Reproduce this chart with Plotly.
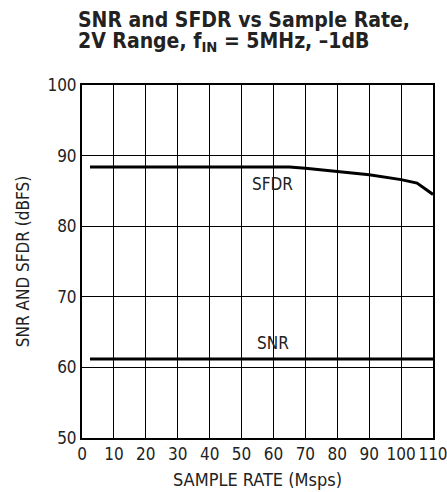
import plotly.graph_objects as go

sfdr_x = [2.5, 10, 20, 30, 40, 50, 60, 65, 70, 80, 90, 100, 105, 110]
sfdr_y = [88.4, 88.4, 88.4, 88.4, 88.4, 88.4, 88.4, 88.4, 88.2, 87.7, 87.3, 86.6, 86.1, 84.5]
snr_x = [2.5, 110]
snr_y = [61.2, 61.2]
x_ticks = [0, 10, 20, 30, 40, 50, 60, 70, 80, 90, 100, 110]
y_ticks = [50, 60, 70, 80, 90, 100]

FONT = "DejaVu Sans Condensed, Liberation Sans Narrow, sans-serif"
T, B, L, R = 85, 54, 82, 14
PH = 492 - T - B
PW = 447 - L - R

def py(px):
    return 1 + (T - px) / PH

def px_(x):
    return (x - L) / PW

fig = go.Figure()
fig.add_trace(go.Scatter(x=sfdr_x, y=sfdr_y, mode="lines",
                         line=dict(color="black", width=3), showlegend=False))
fig.add_trace(go.Scatter(x=snr_x, y=snr_y, mode="lines",
                         line=dict(color="black", width=3), showlegend=False))

fig.add_annotation(x=59.6, y=86.0, text="SFDR", showarrow=False,
                   font=dict(family=FONT, size=17, color="#222"))
fig.add_annotation(x=59.8, y=63.4, text="SNR", showarrow=False,
                   font=dict(family=FONT, size=17, color="#222"))

fig.add_annotation(xref="paper", yref="paper", x=px_(76), y=py(20),
                   xanchor="left", yanchor="middle", align="left",
                   text="<b>SNR and SFDR vs Sample Rate,</b>",
                   showarrow=False,
                   font=dict(family=FONT, size=21, color="#222"))
fig.add_annotation(xref="paper", yref="paper", x=px_(76), y=py(42),
                   xanchor="left", yanchor="middle", align="left",
                   text="<b>2V Range, f<sub>IN</sub> = 5MHz, –1dB</b>",
                   showarrow=False,
                   font=dict(family=FONT, size=21, color="#222"))

fig.update_xaxes(range=[0, 110], tickvals=x_ticks, showgrid=True,
                 gridcolor="black", gridwidth=1, showline=True, linecolor="black",
                 linewidth=2, mirror=True, ticks="", zeroline=False, automargin=False,
                 ticklabeloverflow="allow",
                 tickfont=dict(family=FONT, size=17, color="#222"),
                 title=dict(text="SAMPLE RATE (Msps)", standoff=10,
                            font=dict(family=FONT, size=18, color="#222")))
fig.update_yaxes(range=[50, 100], tickvals=y_ticks, showgrid=True,
                 gridcolor="black", gridwidth=1, showline=True, linecolor="black",
                 linewidth=2, mirror=True, ticks="", zeroline=False, automargin=False,
                 tickfont=dict(family=FONT, size=17, color="#222"),
                 title=dict(text="SNR AND SFDR (dBFS)", standoff=13,
                            font=dict(family=FONT, size=17, color="#222")))

fig.update_layout(width=447, height=492, plot_bgcolor="white", paper_bgcolor="white",
                  margin=dict(l=L, r=R, t=T, b=B))
fig.write_html("out.html", config={"displayModeBar": False},
               post_script="document.body.style.margin='0';document.body.style.overflow='hidden';")
